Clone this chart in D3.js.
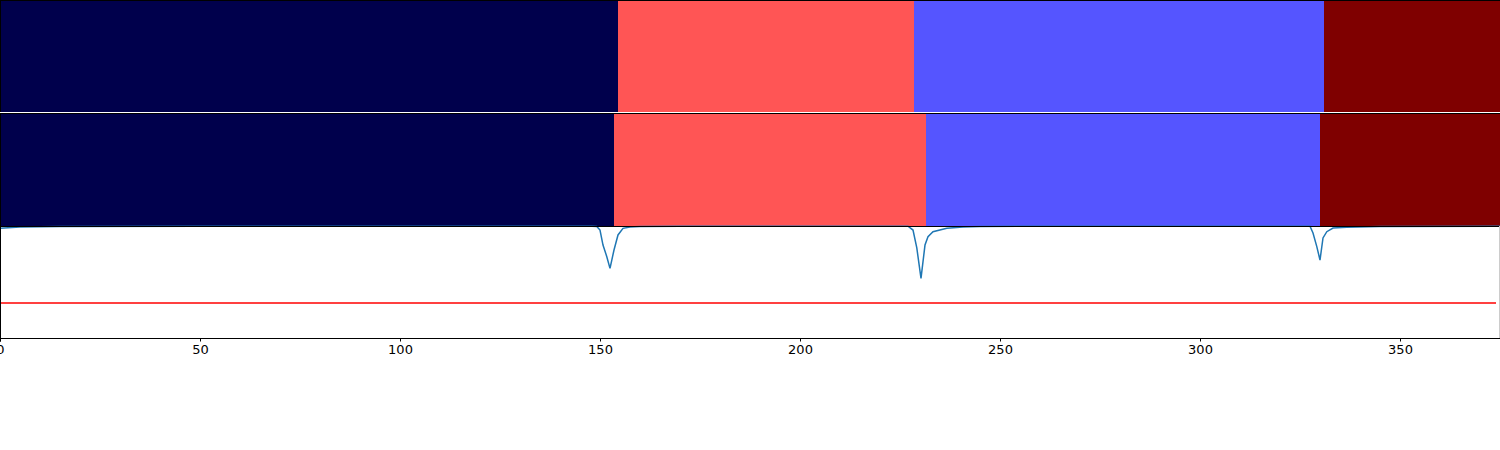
<!DOCTYPE html>
<html><head><meta charset="utf-8">
<script src="https://cdn.jsdelivr.net/npm/d3@7"></script>
<style>body{margin:0;background:#fff}svg{display:block}</style>
</head><body><svg id="c" width="1500" height="450"></svg>
<script>
// Segment labels (top: predicted, middle: ground truth)
const topStarts = [0, 154.5, 228.5, 331];
const topLabels = [0, 2, 1, 3];
const midStarts = [0, 153.5, 231.5, 330];
const midLabels = [0, 2, 1, 3];
const xMax = 375;
// Boundary probability curve [x, y]
const probX = [0,5,15,50,148,149.2,150,150.75,151.7,152.5,153.5,154.5,155.75,157.5,160,170,
  227,228.25,229.2,230.25,231.25,232,233.25,236.7,240.75,245,260,
  327.5,328.25,329.2,330,330.75,331.7,333.25,336.7,345,375];
const probY = [0.980,0.990,0.995,0.998,0.998,0.996,0.964,0.830,0.726,0.622,0.786,0.920,0.979,0.991,0.996,0.998,
  0.998,0.964,0.804,0.533,0.830,0.905,0.949,0.979,0.991,0.996,0.998,
  0.998,0.938,0.816,0.696,0.893,0.949,0.982,0.988,0.996,0.998];
const threshold = 0.3125;
const thresholdEnd = 374;
const xTicks = [0,50,100,150,200,250,300,350];

const colors = {0:"#00004c",1:"#5555ff",2:"#ff5555",3:"#7f0000"};
const svg = d3.select("#c");
const W = 1500;
const x = d3.scaleLinear().domain([0, xMax]).range([0, W]);

function segPanel(starts, labels, top, h) {
  const g = svg.append("g").attr("transform", `translate(0,${top})`);
  const ends = starts.slice(1).concat([xMax]);
  g.selectAll("rect").data(starts).join("rect")
    .attr("x", d => x(d)).attr("y", 0)
    .attr("width", (d,i) => x(ends[i]) - x(d)).attr("height", h)
    .attr("fill", (d,i) => colors[labels[i]]);
  g.append("line").attr("x1",0).attr("x2",W).attr("y1",0.5).attr("y2",0.5).attr("stroke","#000");
  g.append("line").attr("x1",0.5).attr("x2",0.5).attr("y1",0).attr("y2",h).attr("stroke","#000");
}
segPanel(topStarts, topLabels, 0, 112);
segPanel(midStarts, midLabels, 113, 113);

// Third panel
const p3top = 226, p3h = 112;
const y = d3.scaleLinear().domain([0, 1]).range([p3top + p3h, p3top]);
const g3 = svg.append("g");
g3.append("line").attr("x1",x(0)).attr("x2",x(thresholdEnd)).attr("y1",y(threshold)).attr("y2",y(threshold))
  .attr("stroke","#ff0000").attr("stroke-width",1.5);
const pts = probX.map((d,i)=>[d, probY[i]]);
g3.append("path").datum(pts)
  .attr("d", d3.line().x(d=>x(d[0])).y(d=>y(d[1])))
  .attr("fill","none").attr("stroke","#1f77b4").attr("stroke-width",1.5);
g3.append("line").attr("x1",0).attr("x2",W).attr("y1",p3top+0.5).attr("y2",p3top+0.5).attr("stroke","#000");
g3.append("line").attr("x1",0.5).attr("x2",0.5).attr("y1",p3top).attr("y2",p3top+p3h).attr("stroke","#000");
g3.append("line").attr("x1",W-0.5).attr("x2",W-0.5).attr("y1",p3top).attr("y2",p3top+p3h).attr("stroke","#ccc");

const ax = svg.append("g").attr("transform", `translate(0,${p3top+p3h})`)
  .call(d3.axisBottom(x).tickValues(xTicks).tickSize(3.5).tickPadding(3.5).tickFormat(d3.format("d")));
ax.select(".domain").attr("stroke","#000").attr("stroke-width",1);
ax.selectAll("text").attr("font-family","DejaVu Sans").attr("font-size","13px").attr("fill","#000");
</script></body></html>
